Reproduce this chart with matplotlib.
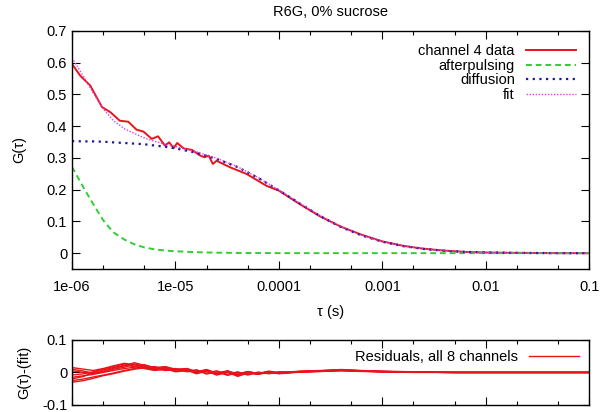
import matplotlib.pyplot as plt
import numpy as np

plt.rcParams['font.family'] = ['Liberation Sans', 'DejaVu Sans']
plt.rcParams['font.size'] = 10.5

# model curves
tau_model = [1.0e-6, 1.3e-6, 1.6e-6, 2.0e-6, 2.5e-6, 3.2e-6, 4.0e-6, 5.0e-6, 6.3e-6, 8.0e-6,
             1.0e-5, 1.6e-5, 2.5e-5, 4.0e-5, 6.3e-5, 1.0e-4, 1.6e-4, 2.5e-4, 4.0e-4, 6.3e-4,
             1.0e-3, 1.6e-3, 2.5e-3, 4.0e-3, 6.3e-3, 1.0e-2, 1.6e-2, 2.5e-2, 4.0e-2, 6.3e-2, 1.0e-1]
G_diff = [0.353, 0.352, 0.352, 0.351, 0.349, 0.347, 0.345, 0.343, 0.339, 0.335,
          0.330, 0.316, 0.297, 0.271, 0.237, 0.198, 0.156, 0.117, 0.082, 0.056,
          0.036, 0.022, 0.0133, 0.0075, 0.0041, 0.0023, 0.0012, 0.0006, 0.0003, 0.0001, 0.0]
G_after = [0.272, 0.205, 0.155, 0.104, 0.066, 0.043, 0.028, 0.018, 0.012, 0.008,
           0.006, 0.003, 0.0015, 0.0008, 0.0004, 0.0002, 0.0, 0.0, 0.0, 0.0,
           0.0, 0.0, 0.0, 0.0, 0.0, 0.0, 0.0, 0.0, 0.0, 0.0, 0.0]
G_fit = [0.615, 0.555, 0.505, 0.455, 0.418, 0.392, 0.377, 0.363, 0.352, 0.343,
         0.336, 0.319, 0.299, 0.272, 0.238, 0.199, 0.157, 0.118, 0.083, 0.057,
         0.037, 0.023, 0.0135, 0.0077, 0.0042, 0.0024, 0.0012, 0.0006, 0.0003, 0.0001, 0.0]

# channel 4 data
tau_data = [1.0e-6, 1.2e-6, 1.5e-6, 1.95e-6, 2.35e-6, 2.9e-6, 3.5e-6, 4.2e-6, 4.9e-6, 5.9e-6,
            6.8e-6, 7.9e-6, 8.7e-6, 9.6e-6, 1.04e-5, 1.2e-5, 1.45e-5, 1.7e-5, 1.9e-5, 2.1e-5,
            2.3e-5, 2.5e-5, 3.4e-5, 4.9e-5, 7.6e-5, 1.0e-4, 1.6e-4, 2.5e-4, 4.0e-4, 6.3e-4,
            1.0e-3, 1.6e-3, 2.5e-3, 4.0e-3, 6.3e-3, 1.0e-2, 2.0e-2, 5.0e-2, 1.0e-1]
G_data = [0.596, 0.559, 0.528, 0.460, 0.444, 0.417, 0.414, 0.389, 0.383, 0.360,
          0.368, 0.339, 0.349, 0.331, 0.347, 0.330, 0.325, 0.309, 0.302, 0.307,
          0.281, 0.291, 0.270, 0.249, 0.212, 0.197, 0.154, 0.116, 0.083, 0.058,
          0.037, 0.023, 0.014, 0.008, 0.004, 0.002, 0.001, 0.000, 0.000]

# residuals, 8 channels
tau_res = [1e-6, 1.3e-6, 1.6e-6, 2e-6, 2.5e-6, 3.2e-6, 4e-6, 5e-6, 6.3e-6, 8e-6,
           1e-5, 1.3e-5, 1.6e-5, 2e-5, 2.5e-5, 3.2e-5, 4e-5, 5e-5, 6.3e-5, 8e-5,
           1e-4, 1.6e-4, 2.5e-4, 4e-4, 6.3e-4, 1e-3, 2e-3, 5e-3, 1e-2, 1e-1]
res_ch1 = [-0.020, -0.012, 0.000, 0.008, 0.015, 0.022, 0.018, 0.012, 0.006, 0.010, 0.004, 0.008, -0.002, 0.006, -0.004,
           0.003, -0.006, 0.002, -0.004, 0.002, -0.003, 0.002, 0.004, 0.006, 0.004, 0.003, 0.001, 0.000, 0.000, 0.000]
res_ch2 = [0.015, 0.010, 0.006, 0.012, 0.020, 0.028, 0.024, 0.016, 0.010, 0.014, 0.006, 0.010, 0.000, 0.008, -0.003,
           0.004, -0.008, 0.001, -0.005, 0.003, -0.002, 0.003, 0.005, 0.008, 0.005, 0.003, 0.001, 0.000, 0.000, 0.000]
res_ch3 = [-0.030, -0.025, -0.018, -0.010, -0.004, 0.004, 0.010, 0.014, 0.008, 0.012, 0.002, 0.006, -0.004, 0.004, -0.008,
           0.000, -0.012, -0.002, -0.006, 0.001, -0.004, 0.001, 0.003, 0.005, 0.003, 0.002, 0.001, 0.000, 0.000, 0.000]
res_ch4 = [0.005, 0.000, -0.004, 0.004, 0.012, 0.020, 0.030, 0.022, 0.015, 0.018, 0.010, 0.012, 0.002, 0.009, -0.002,
           0.005, -0.005, 0.003, -0.003, 0.004, -0.001, 0.004, 0.006, 0.009, 0.006, 0.004, 0.002, 0.000, 0.000, 0.000]
res_ch5 = [-0.008, -0.004, 0.002, 0.010, 0.018, 0.026, 0.020, 0.014, 0.018, 0.008, 0.012, 0.004, 0.008, -0.002, 0.005,
           -0.006, 0.002, -0.008, 0.000, -0.003, 0.002, 0.001, 0.004, 0.007, 0.004, 0.002, 0.001, 0.000, 0.000, 0.000]
res_ch6 = [-0.025, -0.020, -0.014, -0.008, -0.002, 0.006, 0.012, 0.018, 0.012, 0.006, 0.009, 0.002, 0.007, -0.005, 0.002,
           -0.009, 0.000, -0.006, 0.001, -0.004, 0.001, 0.002, 0.003, 0.006, 0.004, 0.002, 0.000, 0.000, 0.000, 0.000]
res_ch7 = [0.010, 0.004, -0.002, 0.002, 0.010, 0.016, 0.026, 0.020, 0.010, 0.016, 0.008, 0.011, 0.001, 0.007, -0.003,
           0.004, -0.007, 0.002, -0.004, 0.002, -0.002, 0.003, 0.005, 0.008, 0.005, 0.003, 0.001, 0.000, 0.000, 0.000]
res_ch8 = [-0.015, -0.010, -0.006, 0.000, 0.006, 0.012, 0.016, 0.024, 0.014, 0.012, 0.005, 0.009, -0.001, 0.005, -0.006,
           0.002, -0.010, 0.000, -0.005, 0.001, -0.003, 0.002, 0.004, 0.007, 0.005, 0.002, 0.001, 0.000, 0.000, 0.000]
residuals = [res_ch1, res_ch2, res_ch3, res_ch4, res_ch5, res_ch6, res_ch7, res_ch8]

xticks = [1e-6, 1e-5, 1e-4, 1e-3, 1e-2, 1e-1]
xlabels = ['1e-06', '1e-05', '0.0001', '0.001', '0.01', '0.1']

fig = plt.figure(figsize=(6, 4.12), dpi=100)
ax = fig.add_axes([0.12, 0.347, 0.862, 0.578])
ax2 = fig.add_axes([0.12, 0.017, 0.862, 0.158])


def style_axis(a):
    a.set_xscale('log')
    a.set_xlim(1e-6, 0.1)
    a.set_xticks(xticks)
    a.xaxis.set_minor_locator(plt.matplotlib.ticker.LogLocator(base=10, subs=[2, 5]))
    a.xaxis.set_minor_formatter(plt.NullFormatter())
    a.tick_params(which='both', direction='in', top=True, right=True, width=0.8)
    a.tick_params(which='major', length=6, labelsize=10.5)
    a.tick_params(which='minor', length=3)
    for s in a.spines.values():
        s.set_linewidth(1.0)


style_axis(ax)
ax.plot(tau_data, G_data, color='#e8141b', lw=1.4, label='channel 4 data')
ax.plot(tau_model, G_after, color='#33cc33', lw=1.4, ls=(0, (3, 2)), label='afterpulsing')
ax.plot(tau_model, G_diff, color='#1a1a9a', lw=1.6, ls=(0, (1, 2)), label='diffusion')
ax.plot(tau_model, G_fit, color='#e040e0', lw=1.0, ls=(0, (1, 1.2)), label='fit')
ax.set_ylim(-0.05, 0.7)
ax.set_yticks(np.arange(0, 0.71, 0.1))
ax.set_yticklabels(['0', '0.1', '0.2', '0.3', '0.4', '0.5', '0.6', '0.7'])
ax.set_xticklabels(xlabels)
ax.tick_params(axis='x', pad=8)
ax.set_xlabel('τ (s)', labelpad=8)
ax.set_ylabel('G(τ)', labelpad=15)
ax.set_title('R6G, 0% sucrose', fontsize=10.5, pad=11)
ax.legend(loc='upper right', frameon=False, markerfirst=False, handlelength=3.4,
          labelspacing=0.05, borderaxespad=0.5, fontsize=10.5)

style_axis(ax2)
for i, r in enumerate(residuals):
    ax2.plot(tau_res, r, color='#e8141b', lw=1.0,
             label='Residuals, all 8 channels' if i == 0 else None)
ax2.set_ylim(-0.1, 0.1)
ax2.set_yticks([-0.1, 0, 0.1])
ax2.set_yticklabels(['-0.1', '0', '0.1'])
ax2.set_xticklabels([])
ax2.set_ylabel('G(τ)-(fit)', labelpad=8)
ax2.legend(loc='upper right', frameon=False, markerfirst=False, handlelength=3.4,
           borderaxespad=0.3, fontsize=10.5)

fig.savefig('out.png', dpi=100)
